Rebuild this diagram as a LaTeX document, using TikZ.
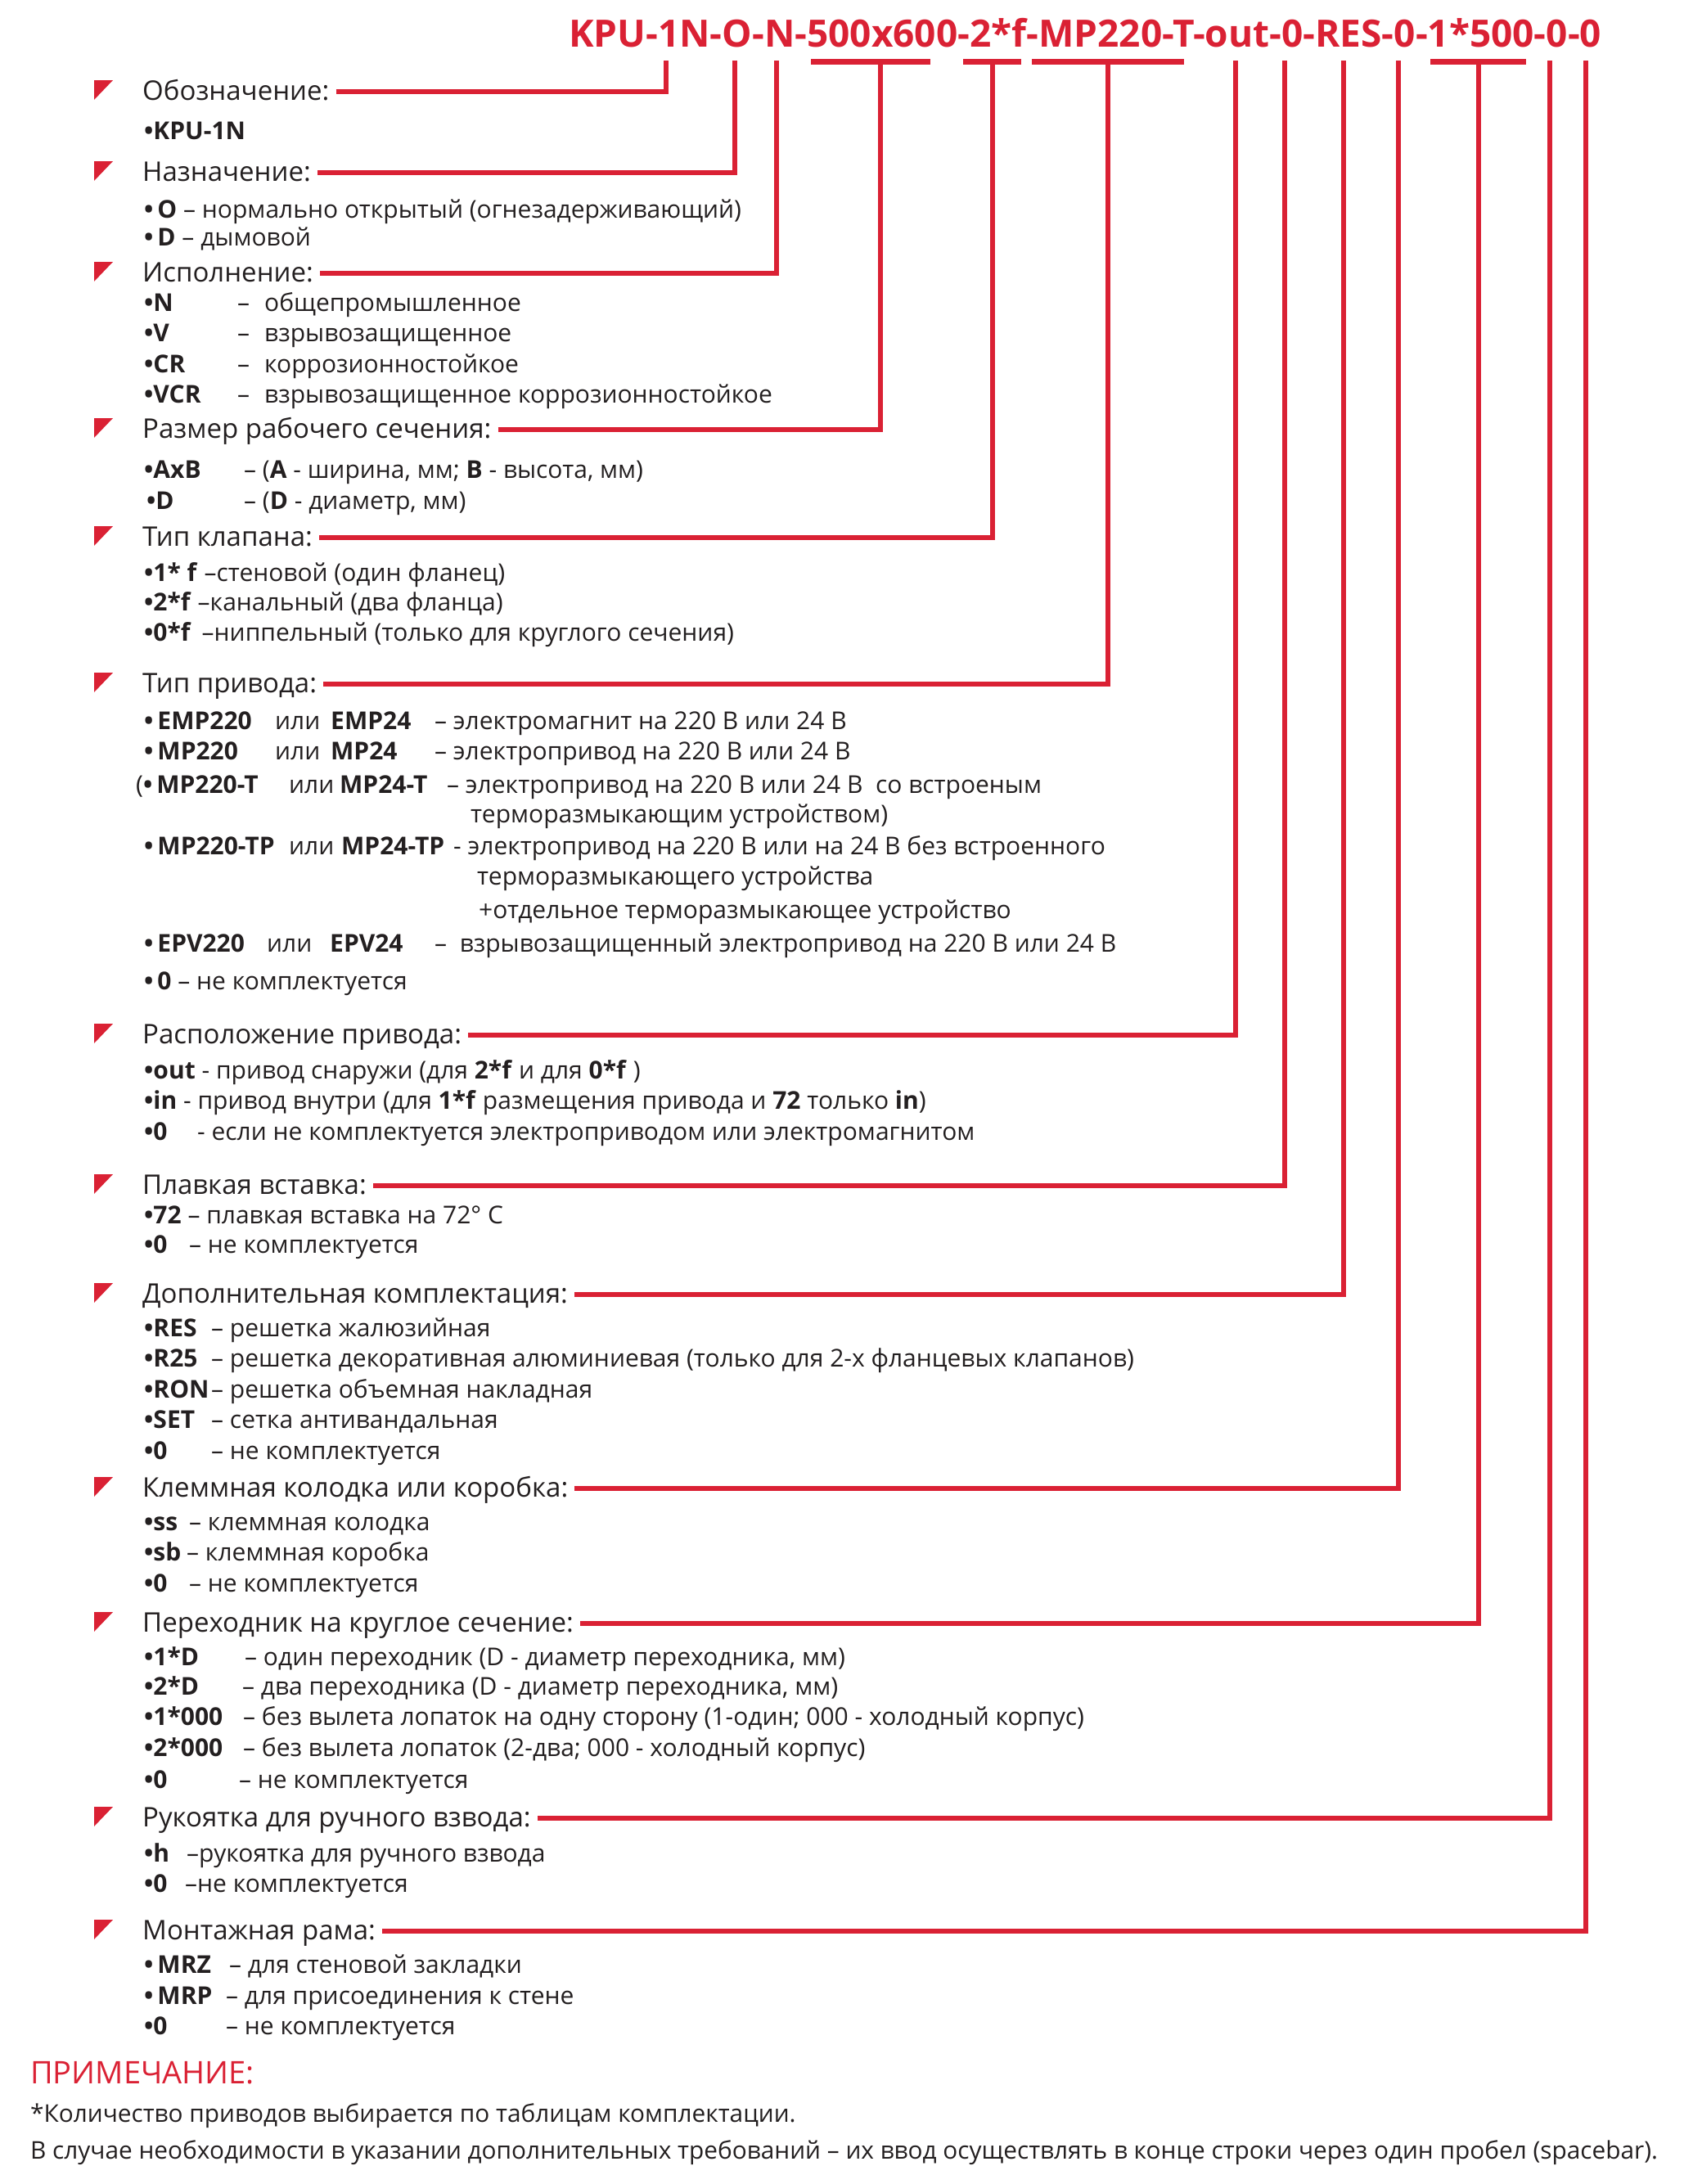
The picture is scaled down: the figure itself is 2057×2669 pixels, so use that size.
\documentclass[tikz,border=0pt]{standalone}
\usepackage{fontspec}
\setmainfont{Open Sans}
\usetikzlibrary{calc}

\definecolor{kred}{RGB}{218,33,52}
\definecolor{ktext}{RGB}{35,31,32}

\newcommand\hdrfont{\fontsize{33}{40}\selectfont}
\newcommand\itmfont{\fontsize{30}{36}\selectfont}
\newcommand\codefont{\fontsize{46}{52}\selectfont\bfseries}
\newcommand\notefont{\fontsize{29.8}{36}\selectfont}
\newcommand\tabbox[2]{\makebox[#1pt][l]{#2}}
\newcommand\bul{\textbf{•}}

\tikzset{
  hdr/.style={anchor=base west, inner sep=0pt, text=ktext, font=\hdrfont},
  itm/.style={anchor=base west, inner sep=0pt, text=ktext, font=\itmfont},
  link/.style={draw=kred, line width=6.5pt, line join=miter},
  bar/.style={draw=kred, line width=7pt},
}

\begin{document}
\begin{tikzpicture}[x=1pt,y=-1pt]
\useasboundingbox (0,0) rectangle (2057,2669);

% code string
\node[anchor=base west, inner sep=0pt, text=kred, font=\codefont] (code) at (695,57)
  {KPU-1N-O-N-500x600-2*f-MP220-T-out-0-RES-0-1*500-0-0};
\foreach \xa/\xb in {991/1137, 1177/1248, 1261/1447, 1748/1865}
  \draw[bar] (\xa,75.5) -- (\xb,75.5);

% headers with markers and connectors
\foreach \n/\yb/\kx/\txt in {
  1/122/814/Обозначение:,
  2/221/898/Назначение:,
  3/344/949/Исполнение:,
  4/535/1076/Размер рабочего сечения:,
  5/667/1213/Тип клапана:,
  6/846/1354/Тип привода:,
  7/1275/1510/Расположение привода:,
  8/1459/1570/Плавкая вставка:,
  9/1592/1642/Дополнительная комплектация:,
  10/1829/1709/Клеммная колодка или коробка:,
  11/1994/1807/Переходник на круглое сечение:,
  12/2232/1894/Рукоятка для ручного взвода:,
  13/2370/1938/Монтажная рама:}{
  \node[hdr] (h\n) at (174,\yb) {\txt};
  \fill[kred] (115,\yb-24) -- (138,\yb-24) -- (115,\yb) -- cycle;
  \coordinate (k\n) at (\kx,74);
  \draw[link] ([shift={(8pt,10pt)}]h\n.base east) -| (k\n);
}

% 1
\node[itm] (i1a) at (176,170) {\bul\textbf{KPU-1N}};
% 2
\node[itm] (i2a) at (176,266) {\bul\,\textbf{O} – нормально открытый (огнезадерживающий)};
\node[itm] (i2b) at (176,300) {\bul\,\textbf{D} – дымовой};
% 3
\node[itm] (i3a) at (176,380) {\tabbox{114}{\bul\textbf{N}}\tabbox{33}{–}общепромышленное};
\node[itm] (i3b) at (176,417) {\tabbox{114}{\bul\textbf{V}}\tabbox{33}{–}взрывозащищенное};
\node[itm] (i3c) at (176,455) {\tabbox{114}{\bul\textbf{CR}}\tabbox{33}{–}коррозионностойкое};
\node[itm] (i3d) at (176,492) {\tabbox{114}{\bul\textbf{VCR}}\tabbox{33}{–}взрывозащищенное коррозионностойкое};
% 4
\node[itm] (i4a) at (176,584) {\tabbox{122}{\bul\textbf{AxB}}– (\textbf{A} - ширина, мм; \textbf{B} - высота, мм)};
\node[itm] (i4b) at (179,622) {\tabbox{119}{\bul\textbf{D}}– (\textbf{D} - диаметр, мм)};
% 5
\node[itm] (i5a) at (176,710) {\bul\textbf{1* f} –стеновой (один фланец)};
\node[itm] (i5b) at (176,746) {\bul\textbf{2*f} –канальный (два фланца)};
\node[itm] (i5c) at (176,783) {\bul\textbf{0*f} \,–ниппельный (только для круглого сечения)};
% 6
\node[itm] (i6a) at (176,891) {\tabbox{160}{\bul\,\textbf{EMP220}}\tabbox{68}{или}\tabbox{127}{\textbf{EMP24}}– электромагнит на 220 В или 24 В};
\node[itm] (i6b) at (176,928) {\tabbox{160}{\bul\,\textbf{MP220}}\tabbox{68}{или}\tabbox{127}{\textbf{MP24}}– электропривод на 220 В или 24 В};
\node[itm] (i6c) at (166,969) {\tabbox{187}{(\bul\,\textbf{MP220-T}}\tabbox{62}{или}\tabbox{131}{\textbf{MP24-T}}– электропривод на 220 В или 24 В \ со встроеным};
\node[itm] (i6d) at (575,1005) {терморазмыкающим устройством)};
\node[itm] (i6e) at (176,1044) {\tabbox{177}{\bul\,\textbf{MP220-TP}}\tabbox{64}{или}\tabbox{137}{\textbf{MP24-TP}}- электропривод на 220 В или на 24 В без встроенного};
\node[itm] (i6f) at (583,1081) {терморазмыкающего устройства};
\node[itm] (i6g) at (585,1122) {+отдельное терморазмыкающее устройство};
\node[itm] (i6h) at (176,1163) {\tabbox{150}{\bul\,\textbf{EPV220}}\tabbox{77}{или}\tabbox{128}{\textbf{EPV24}}–\ \ взрывозащищенный электропривод на 220 В или 24 В};
\node[itm] (i6i) at (176,1209) {\bul\,\textbf{0} – не комплектуется};
% 7
\node[itm] (i7a) at (176,1318) {\bul\textbf{out} - привод снаружи (для \textbf{2*f} и для \textbf{0*f} )};
\node[itm] (i7b) at (176,1355) {\bul\textbf{in} - привод внутри (для \textbf{1*f} размещения привода и \textbf{72} только \textbf{in})};
\node[itm] (i7c) at (176,1393) {\tabbox{65}{\bul\textbf{0}}- если не комплектуется электроприводом или электромагнитом};
% 8
\node[itm] (i8a) at (176,1495) {\bul\textbf{72} – плавкая вставка на 72° С};
\node[itm] (i8b) at (176,1531) {\tabbox{55}{\bul\textbf{0}}– не комплектуется};
% 9
\node[itm] (i9a) at (176,1633) {\tabbox{82}{\bul\textbf{RES}}– решетка жалюзийная};
\node[itm] (i9b) at (176,1670) {\tabbox{82}{\bul\textbf{R25}}– решетка декоративная алюминиевая (только для 2-х фланцевых клапанов)};
\node[itm] (i9c) at (176,1708) {\tabbox{82}{\bul\textbf{RON}}– решетка объемная накладная};
\node[itm] (i9d) at (176,1745) {\tabbox{82}{\bul\textbf{SET}}– сетка антивандальная};
\node[itm] (i9e) at (176,1783) {\tabbox{82}{\bul\textbf{0}}– не комплектуется};
% 10
\node[itm] (i10a) at (176,1870) {\tabbox{55}{\bul\textbf{ss}}– клеммная колодка};
\node[itm] (i10b) at (176,1907) {\tabbox{52}{\bul\textbf{sb}}– клеммная коробка};
\node[itm] (i10c) at (176,1945) {\tabbox{55}{\bul\textbf{0}}– не комплектуется};
% 11
\node[itm] (i11a) at (176,2035) {\tabbox{123}{\bul\textbf{1*D}}– один переходник (D - диаметр переходника, мм)};
\node[itm] (i11b) at (176,2071) {\tabbox{120}{\bul\textbf{2*D}}– два переходника (D - диаметр переходника, мм)};
\node[itm] (i11c) at (176,2108) {\tabbox{121}{\bul\textbf{1*000}}– без вылета лопаток на одну сторону (1-один; 000 - холодный корпус)};
\node[itm] (i11d) at (176,2146) {\tabbox{121}{\bul\textbf{2*000}}– без вылета лопаток (2-два; 000 - холодный корпус)};
\node[itm] (i11e) at (176,2185) {\tabbox{116}{\bul\textbf{0}}– не комплектуется};
% 12
\node[itm] (i12a) at (176,2275) {\tabbox{52}{\bul\textbf{h}}–рукоятка для ручного взвода};
\node[itm] (i12b) at (176,2312) {\tabbox{50}{\bul\textbf{0}}–не комплектуется};
% 13
\node[itm] (i13a) at (176,2411) {\tabbox{104}{\bul\,\textbf{MRZ}}– для стеновой закладки};
\node[itm] (i13b) at (176,2449) {\tabbox{100}{\bul\,\textbf{MRP}}– для присоединения к стене};
\node[itm] (i13c) at (176,2486) {\tabbox{100}{\bul\textbf{0}}– не комплектуется};

% note
\node[anchor=base west, inner sep=0pt, text=kred, font=\fontsize{38}{42}\selectfont] (note) at (37,2546) {ПРИМЕЧАНИЕ:};
\node[anchor=base west, inner sep=0pt, text=ktext, font=\notefont] (n1) at (37,2593) {*Количество приводов выбирается по таблицам комплектации.};
\node[anchor=base west, inner sep=0pt, text=ktext, font=\notefont] (n2) at (37,2638) {В случае необходимости в указании дополнительных требований – их ввод осуществлять в конце строки через один пробел (spacebar).};
\end{tikzpicture}
\end{document}
